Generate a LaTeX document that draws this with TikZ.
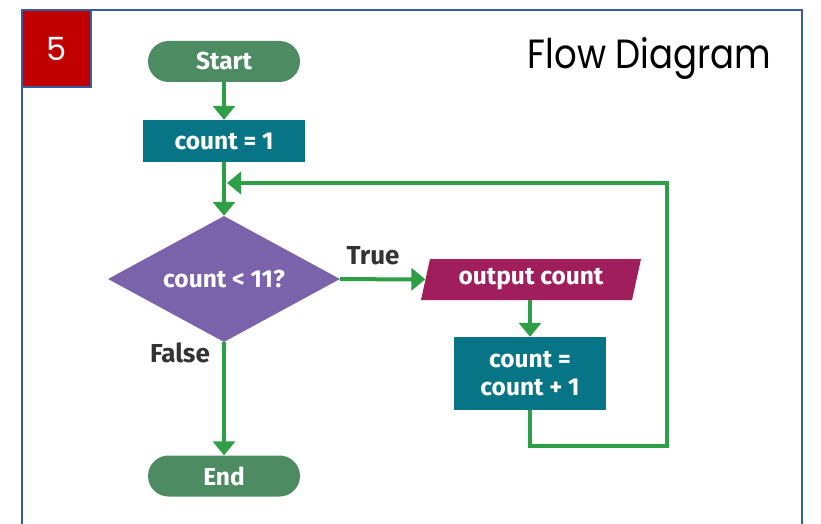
\documentclass[tikz,border=0pt]{standalone}
\usepackage{fontspec}
\setmainfont{Fira Sans}
\newfontfamily\titlefont{Poppins}
\usetikzlibrary{shapes.geometric,arrows.meta}

\definecolor{framblue}{HTML}{3A5BA0}
\definecolor{numred}{HTML}{C00000}
\definecolor{pillgreen}{HTML}{4D8C62}
\definecolor{procteal}{HTML}{087586}
\definecolor{decpurple}{HTML}{7B63AB}
\definecolor{iomagenta}{HTML}{A11E5D}
\definecolor{flowgreen}{HTML}{2E9E47}
\definecolor{lblgray}{HTML}{333333}

\tikzset{
  nodetext/.style={text=white, font=\fontsize{24.5}{28}\bfseries\selectfont, inner sep=0pt},
  pill/.style={nodetext, fill=pillgreen, rounded corners=20.5pt, minimum width=152pt, minimum height=41pt},
  procbox/.style={nodetext, fill=procteal, minimum width=162pt, minimum height=42pt},
  decision/.style={nodetext, diamond, shape aspect=1.84, fill=decpurple, minimum width=232pt, minimum height=126pt},
  iobox/.style={nodetext, trapezium, trapezium left angle=67.5, trapezium right angle=112.5,
    trapezium stretches body, fill=iomagenta, minimum width=220pt, minimum height=41pt},
  flow/.style={draw=flowgreen, line width=4pt, -{Triangle[width=22pt,length=14pt]}},
  lbl/.style={text=lblgray, font=\fontsize{26}{30}\bfseries\selectfont, inner sep=0pt},
}

\begin{document}
\begin{tikzpicture}[x=1pt,y=-1pt]
\useasboundingbox (0,0) rectangle (821,524);
\fill[white] (0,0) rectangle (821,524);

% slide frame and number tab
\draw[framblue, line width=2.5pt] (22,10) rectangle (802,580);
\node[fill=numred, draw=framblue, line width=1.5pt, minimum width=69pt, minimum height=77pt,
  inner sep=0pt, text=white, font=\titlefont\fontsize{32}{36}\selectfont] (num) at (56.5,48.5) {5};
\node[font=\titlefont\fontsize{35.5}{40}\selectfont, inner sep=0pt] (title) at (649.5,58.5)
  {\scalebox{1}[1.15]{Flow Diagram}};

% flowchart blocks
\node[pill] (start) at (224,61.5) {Start};
\node[procbox] (init) at (224,141) {count = 1};
\node[decision] (test) at (224,279) {count < 11?};
\node[iobox] (out) at (531,279.5) {output count};
\node[procbox, minimum width=152pt, minimum height=73pt, align=center] (inc) at (530,373.5) {count =\\count + 1};
\node[pill] (end) at (224,476) {End};

% branch labels
\node[lbl] (tlbl) at (373,256) {True};
\node[lbl] (flbl) at (180,353) {False};

% loop-back route
\coordinate (lcorner) at (667,446);
\coordinate (back) at (227,183);

% connectors
\draw[flow] (start) -- (init);
\draw[flow] (init) -- (test);
\draw[flow] (test) -- (out);
\draw[flow] (out.south -| inc.north) -- (inc);
\draw[flow] (test) -- (end);
\draw[flow] (inc.south) |- (lcorner) |- (back);
\end{tikzpicture}
\end{document}
